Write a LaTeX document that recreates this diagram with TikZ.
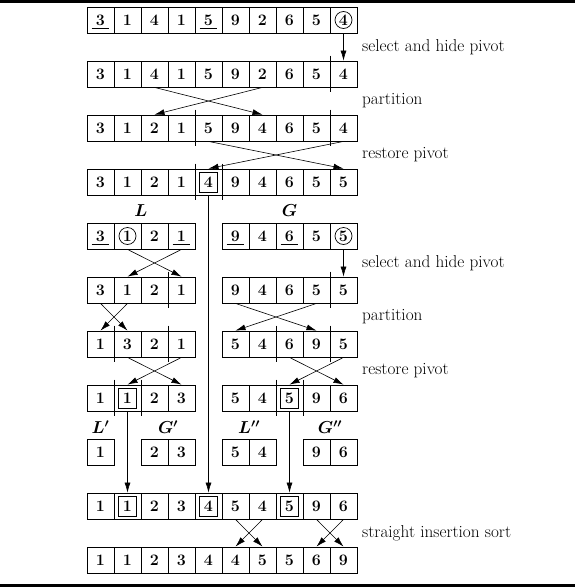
\documentclass[tikz,border=0pt]{standalone}
\usepackage{fontspec}
\usetikzlibrary{arrows.meta}
\newcommand\cellfnt{\fontsize{16}{18}\selectfont\bfseries}
\newcommand\lblfnt{\fontsize{17.2}{20}\selectfont}
\tikzset{
  cellbox/.style={draw, line width=0.8pt, minimum width=27pt, minimum height=26pt, inner sep=0pt, font=\cellfnt},
  arr/.style={line width=0.6pt, -{Latex[length=10pt,width=6pt]}},
  sepline/.style={line width=0.6pt},
  deco/.style={line width=0.7pt},
  lbl/.style={anchor=west, inner sep=0pt, font=\lblfnt},
  grp/.style={inner sep=0pt, font=\lblfnt\boldmath}
}
\newcommand\putrow[2]{%
  \foreach \c/\v in {#2} {
    \node[cellbox] (r#1c\c) at ({73.5+27*\c},{-20-54*(#1-1)}) {\v};
  }%
}
\newcommand\ulcell[1]{\draw[deco] ([xshift=5pt,yshift=5pt]#1.south west) -- ([xshift=-5pt,yshift=5pt]#1.south east);}
\newcommand\circcell[1]{\draw[deco] (#1.center) circle (8.5);}
\newcommand\boxcell[1]{\draw[deco] ([xshift=-9pt,yshift=-10pt]#1.center) rectangle ([xshift=9pt,yshift=10pt]#1.center);}
\newcommand\sepR[1]{\draw[sepline] ([yshift=5pt]#1.north east) -- ([yshift=-5pt]#1.south east);}
\begin{document}
\begin{tikzpicture}[x=1pt,y=1pt]
\useasboundingbox (0,0) rectangle (575,-587);
\fill (0,0) rectangle (575,-2.5);
\fill (0,-584) rectangle (575,-587);
% rows
\putrow{1}{1/3,2/1,3/4,4/1,5/5,6/9,7/2,8/6,9/5,10/4}
\putrow{2}{1/3,2/1,3/4,4/1,5/5,6/9,7/2,8/6,9/5,10/4}
\putrow{3}{1/3,2/1,3/2,4/1,5/5,6/9,7/4,8/6,9/5,10/4}
\putrow{4}{1/3,2/1,3/2,4/1,5/4,6/9,7/4,8/6,9/5,10/5}
\putrow{5}{1/3,2/1,3/2,4/1,6/9,7/4,8/6,9/5,10/5}
\putrow{6}{1/3,2/1,3/2,4/1,6/9,7/4,8/6,9/5,10/5}
\putrow{7}{1/1,2/3,3/2,4/1,6/5,7/4,8/6,9/9,10/5}
\putrow{8}{1/1,2/1,3/2,4/3,6/5,7/4,8/5,9/9,10/6}
\putrow{9}{1/1,3/2,4/3,6/5,7/4,9/9,10/6}
\putrow{10}{1/1,2/1,3/2,4/3,5/4,6/5,7/4,8/5,9/9,10/6}
\putrow{11}{1/1,2/1,3/2,4/3,5/4,6/4,7/5,8/5,9/6,10/9}
% decorations
\ulcell{r1c1}\ulcell{r1c5}\circcell{r1c10}
\ulcell{r5c1}\circcell{r5c2}\ulcell{r5c4}
\ulcell{r5c6}\ulcell{r5c8}\circcell{r5c10}
\boxcell{r4c5}
\boxcell{r8c2}\boxcell{r8c8}
\boxcell{r10c2}\boxcell{r10c5}\boxcell{r10c8}
% partition marks
\sepR{r2c9}
\sepR{r3c4}\sepR{r3c9}
\sepR{r4c4}\sepR{r4c5}
\sepR{r6c3}\sepR{r6c9}
\sepR{r7c1}\sepR{r7c3}\sepR{r7c7}\sepR{r7c9}
\sepR{r8c1}\sepR{r8c2}\sepR{r8c7}\sepR{r8c8}
% arrows
\draw[arr] (r1c10.south) -- (r2c10.north);
\draw[arr] (r2c3.south) -- (r3c7.north);
\draw[arr] (r2c7.south) -- (r3c3.north);
\draw[arr] (r3c5.south) -- (r4c10.north);
\draw[arr] (r3c10.south) -- (r4c5.north);
\draw[arr] (r5c2.south) -- (r6c4.north);
\draw[arr] (r5c4.south) -- (r6c2.north);
\draw[arr] (r5c10.south) -- (r6c10.north);
\draw[arr] (r6c1.south) -- (r7c2.north);
\draw[arr] (r6c2.south) -- (r7c1.north);
\draw[arr] (r6c6.south) -- (r7c9.north);
\draw[arr] (r6c9.south) -- (r7c6.north);
\draw[arr] (r7c2.south) -- (r8c4.north);
\draw[arr] (r7c4.south) -- (r8c2.north);
\draw[arr] (r7c8.south) -- (r8c10.north);
\draw[arr] (r7c10.south) -- (r8c8.north);
\draw[arr] (r4c5.south) -- (r10c5.north);
\draw[arr] (r8c2.south) -- (r10c2.north);
\draw[arr] (r8c8.south) -- (r10c8.north);
\draw[arr] (r10c6.south) -- (r11c7.north);
\draw[arr] (r10c7.south) -- (r11c6.north);
\draw[arr] (r10c9.south) -- (r11c10.north);
\draw[arr] (r10c10.south) -- (r11c9.north);
% step labels
\node[lbl] (t1) at (362,-47) {select and hide pivot};
\node[lbl] (t2) at (362,-101) {partition};
\node[lbl] (t3) at (362,-155) {restore pivot};
\node[lbl] (t4) at (362,-263) {select and hide pivot};
\node[lbl] (t5) at (362,-317) {partition};
\node[lbl] (t6) at (362,-371) {restore pivot};
\node[lbl] (t7) at (362,-533) {straight insertion sort};
% group labels
\node[grp] (gL) at (141,-211) {$L$};
\node[grp] (gG) at (289.5,-211) {$G$};
\node[grp] (gL1) at (100.5,-427) {$L'$};
\node[grp] (gG1) at (168,-427) {$G'$};
\node[grp] (gL2) at (249,-427) {$L''$};
\node[grp] (gG2) at (330,-427) {$G''$};
\end{tikzpicture}
\end{document}
